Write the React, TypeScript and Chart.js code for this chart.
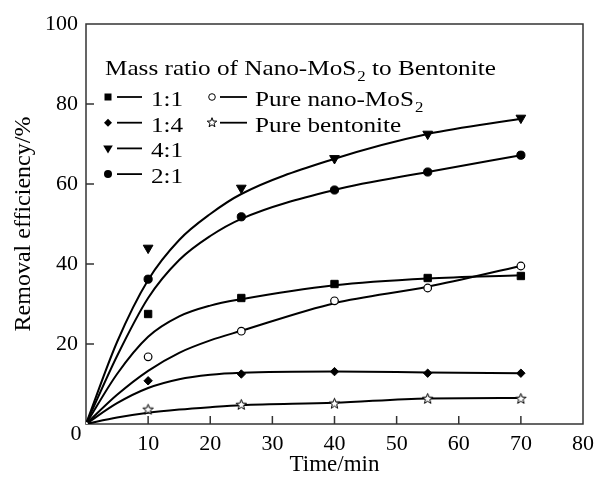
import React, { useEffect, useRef } from 'react';
import { Chart, registerables } from 'chart.js';
Chart.register(...registerables);

const FONT = '"Liberation Serif", "Times New Roman", serif';

// Measured points (time in min, removal efficiency in %)
const timeMin = [0, 10, 25, 40, 55, 70];
const ratio11 = [0, 27.5, 31.5, 35, 36.5, 37];
const ratio14 = [0, 10.8, 12.5, 13.1, 12.7, 12.7];
const ratio41 = [0, 44, 59, 66.4, 72.5, 76.5];
const ratio21 = [0, 36.2, 51.8, 58.5, 63, 67.2];
const pureMoS2 = [0, 16.8, 23.2, 30.8, 34, 39.5];
const pureBentonite = [0, 3.7, 4.9, 5.2, 6.4, 6.4];

// Fitted curves
const fitTime = [0, 5, 10, 15, 20, 25, 40, 55, 70];
const fit11 = [0, 12.5, 21.8, 26.9, 29.6, 31.2, 34.7, 36.4, 37.2];
const fit14 = [0, 5.2, 9, 11.2, 12.3, 12.8, 13.1, 12.9, 12.7];
const fit41 = [0, 20.5, 36, 46, 52.5, 57.5, 66.3, 72.5, 76.3];
const fit21 = [0, 17, 31.5, 41, 47, 51.3, 58.5, 63, 67.2];
const fitMoS2 = [0, 7.3, 13.3, 17.8, 20.9, 23.3, 30.2, 34.3, 39.5];
const fitBentonite = [0, 1.6, 2.8, 3.6, 4.2, 4.7, 5.3, 6.4, 6.5];

const legendTitle = ['Mass ratio of Nano-MoS', '2', ' to Bentonite'];
const legendCol1 = ['1:1', '1:4', '4:1', '2:1'];
const legendCol2 = [['Pure nano-MoS', '2'], ['Pure bentonite', '']];

function starPath(ctx: CanvasRenderingContext2D, cx: number, cy: number, ro: number, ri: number) {
  ctx.beginPath();
  for (let i = 0; i < 10; i++) {
    const r = i % 2 === 0 ? ro : ri;
    const a = -Math.PI / 2 + (i * Math.PI) / 5;
    const px = cx + r * Math.cos(a);
    const py = cy + r * Math.sin(a);
    if (i === 0) ctx.moveTo(px, py);
    else ctx.lineTo(px, py);
  }
  ctx.closePath();
}

function makeStar(): HTMLCanvasElement {
  const c = document.createElement('canvas');
  c.width = 13;
  c.height = 13;
  const g = c.getContext('2d')!;
  starPath(g, 6.5, 7, 5.5, 2.3);
  g.fillStyle = '#fff';
  g.fill();
  g.strokeStyle = '#000';
  g.lineWidth = 1;
  g.stroke();
  return c;
}

function drawMarker(ctx: CanvasRenderingContext2D, kind: string, x: number, y: number) {
  ctx.save();
  ctx.fillStyle = '#000';
  ctx.strokeStyle = '#000';
  ctx.lineWidth = 1;
  ctx.beginPath();
  if (kind === 'square') {
    ctx.rect(x - 3.5, y - 3.5, 7, 7);
    ctx.fill();
  } else if (kind === 'diamond') {
    ctx.moveTo(x, y - 4);
    ctx.lineTo(x + 4, y);
    ctx.lineTo(x, y + 4);
    ctx.lineTo(x - 4, y);
    ctx.closePath();
    ctx.fill();
  } else if (kind === 'tri') {
    ctx.moveTo(x - 4.8, y - 3);
    ctx.lineTo(x + 4.8, y - 3);
    ctx.lineTo(x, y + 5);
    ctx.closePath();
    ctx.fill();
  } else if (kind === 'dot') {
    ctx.arc(x, y, 4, 0, Math.PI * 2);
    ctx.fill();
  } else if (kind === 'ring') {
    ctx.arc(x, y, 3.3, 0, Math.PI * 2);
    ctx.fillStyle = '#fff';
    ctx.fill();
    ctx.stroke();
  } else if (kind === 'star') {
    starPath(ctx, x, y, 5, 2.1);
    ctx.fillStyle = '#fff';
    ctx.fill();
    ctx.stroke();
  }
  ctx.restore();
}

function stretchedText(ctx: CanvasRenderingContext2D, text: string, x: number, y: number, size: number, sx: number) {
  ctx.save();
  ctx.translate(x, y);
  ctx.scale(sx, 1);
  ctx.font = `${size}px ${FONT}`;
  ctx.fillStyle = '#000';
  ctx.textBaseline = 'alphabetic';
  ctx.textAlign = 'left';
  ctx.fillText(text, 0, 0);
  const w = ctx.measureText(text).width * sx;
  ctx.restore();
  return w;
}

const framePlugin = {
  id: 'frame',
  beforeDatasetsDraw(chart: any) {
    const { ctx, chartArea: a, scales } = chart;
    ctx.save();
    ctx.strokeStyle = '#333';
    ctx.lineWidth = 1.5;
    ctx.strokeRect(a.left, a.top, a.right - a.left, a.bottom - a.top);
    ctx.beginPath();
    const xs = scales.x;
    xs.ticks.forEach((t: any) => {
      if (t.value > xs.min && t.value < xs.max) {
        const p = xs.getPixelForValue(t.value);
        ctx.moveTo(p, a.bottom);
        ctx.lineTo(p, a.bottom - 8);
      }
    });
    const ys = scales.y;
    ys.ticks.forEach((t: any) => {
      if (t.value > ys.min && t.value < ys.max) {
        const p = ys.getPixelForValue(t.value);
        ctx.moveTo(a.left, p);
        ctx.lineTo(a.left + 8, p);
      }
    });
    ctx.stroke();
    ctx.restore();
  },
  afterDraw(chart: any) {
    const { ctx, scales } = chart;
    // corner zero label
    ctx.save();
    ctx.font = `22px ${FONT}`;
    ctx.fillStyle = '#000';
    ctx.textAlign = 'center';
    ctx.textBaseline = 'middle';
    ctx.fillText('0', scales.x.getPixelForValue(0) - 10, scales.y.getPixelForValue(0) + 10);
    ctx.restore();

    // legend
    const sx = 1.2;
    const size = 21;
    let x = 105;
    x += stretchedText(ctx, legendTitle[0], x, 75, size, sx);
    x += stretchedText(ctx, legendTitle[1], x + 1, 81, 14, sx) + 1;
    stretchedText(ctx, legendTitle[2], x, 75, size, sx);

    const kinds1 = ['square', 'diamond', 'tri', 'dot'];
    const kinds2 = ['ring', 'star'];
    ctx.save();
    ctx.strokeStyle = '#000';
    ctx.lineWidth = 1.8;
    legendCol1.forEach((lab, i) => {
      const base = 106 + i * 25.7;
      const my = base - 9;
      drawMarker(ctx, kinds1[i], 108, my);
      ctx.beginPath();
      ctx.moveTo(117, my);
      ctx.lineTo(142, my);
      ctx.stroke();
      stretchedText(ctx, lab, 151, base, size, sx);
    });
    legendCol2.forEach((lab, i) => {
      const base = 106 + i * 25.7;
      const my = base - 9;
      drawMarker(ctx, kinds2[i], 212, my);
      ctx.beginPath();
      ctx.moveTo(220, my);
      ctx.lineTo(247, my);
      ctx.stroke();
      const w = stretchedText(ctx, lab[0], 255, base, size, sx);
      if (lab[1]) stretchedText(ctx, lab[1], 255 + w + 1, base + 6, 14, sx);
    });
    ctx.restore();
  },
};

export default function App() {
  const ref = useRef<HTMLCanvasElement>(null);
  useEffect(() => {
    document.body.style.margin = '0';
    const canvas = ref.current!;
    const star = makeStar();
    const xy = (xs: number[], ys: number[]) => xs.map((x, i) => ({ x, y: ys[i] }));
    const hideFirst = (r: number) => (c: any) => (c.dataIndex === 0 ? 0 : r);

    const curve = (label: string, ys: number[]) => ({
      label,
      data: xy(fitTime, ys),
      borderColor: '#000',
      borderWidth: 2,
      pointRadius: 0,
      pointHoverRadius: 0,
      cubicInterpolationMode: 'monotone' as const,
      fill: false,
      order: 2,
    });
    const marks = (label: string, ys: number[], extra: any) => ({
      label,
      data: xy(timeMin, ys),
      showLine: false,
      borderColor: '#000',
      backgroundColor: '#000',
      pointBorderColor: '#000',
      pointBackgroundColor: '#000',
      pointBorderWidth: 1,
      order: 1,
      ...extra,
    });

    const chart = new Chart(canvas, {
      type: 'line',
      data: {
        datasets: [
          marks('Pure nano-MoS2', pureMoS2, { order: 0, pointStyle: 'circle', pointRadius: (c: any) => (c.dataIndex === 0 ? 2.6 : 3.8), pointBackgroundColor: '#fff', pointBorderWidth: 1.2 }),
          marks('1:1', ratio11, { pointStyle: 'rect', pointRadius: hideFirst(5.2) }),
          marks('1:4', ratio14, { pointStyle: 'rectRot', pointRadius: hideFirst(4.2) }),
          marks('4:1', ratio41, { pointStyle: 'triangle', rotation: 180, pointRadius: hideFirst(5.6) }),
          marks('2:1', ratio21, { pointStyle: 'circle', pointRadius: hideFirst(4.1) }),
          marks('Pure bentonite', pureBentonite, { pointStyle: star, pointRadius: hideFirst(6) }),
          curve('1:1 fit', fit11),
          curve('1:4 fit', fit14),
          curve('4:1 fit', fit41),
          curve('2:1 fit', fit21),
          curve('Pure nano-MoS2 fit', fitMoS2),
          curve('Pure bentonite fit', fitBentonite),
        ],
      },
      options: {
        responsive: false,
        animation: false,
        devicePixelRatio: 1,
        layout: { padding: { top: 24, right: 14, left: 0, bottom: 0 } },
        plugins: { legend: { display: false }, tooltip: { enabled: false } },
        events: [],
        scales: {
          x: {
            type: 'linear',
            min: 0,
            max: 80,
            grid: { display: false, drawTicks: false },
            border: { display: false },
            ticks: {
              stepSize: 10,
              padding: 7,
              color: '#000',
              font: { family: FONT, size: 22 },
              callback: (v: any) => (v === 0 ? '' : String(v)),
              maxRotation: 0,
            },
            title: {
              display: true,
              text: 'Time/min',
              color: '#000',
              font: { family: FONT, size: 23 },
              padding: { top: 0, bottom: 0 },
            },
            afterFit: (s: any) => {
              s.height = 55;
            },
          },
          y: {
            min: 0,
            max: 100,
            grid: { display: false, drawTicks: false },
            border: { display: false },
            ticks: {
              stepSize: 20,
              padding: 8,
              color: '#000',
              font: { family: FONT, size: 22 },
              callback: (v: any) => (v === 0 ? '' : String(v)),
            },
            title: {
              display: true,
              text: 'Removal efficiency/%',
              color: '#000',
              font: { family: FONT, size: 24 },
              padding: { top: 9, bottom: 0 },
            },
            afterFit: (s: any) => {
              s.width = 86;
            },
          },
        },
      },
      plugins: [framePlugin],
    });
    return () => chart.destroy();
  }, []);
  return (
    <div style={{ width: 601, height: 479, background: '#fff' }}>
      <canvas ref={ref} width={601} height={479} style={{ display: 'block' }} />
    </div>
  );
}
